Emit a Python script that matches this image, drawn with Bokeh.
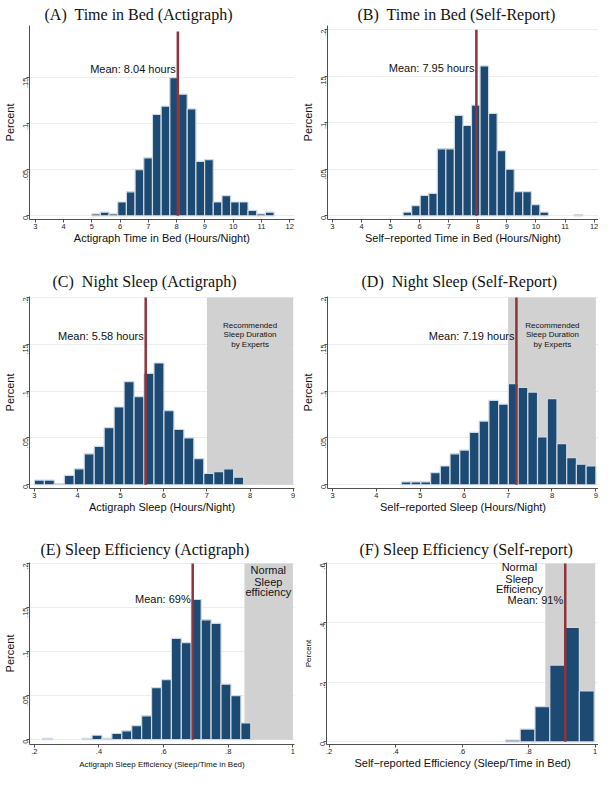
import math
from bokeh.plotting import figure
from bokeh.layouts import column, row
from bokeh.models import Range1d, FixedTicker, CustomJSTickFormatter, Label, ColumnDataSource
from bokeh.embed import file_html
from bokeh.resources import INLINE

# ---------------- data ----------------
# (A) Time in Bed (Actigraph)
a_start, a_width = 4.99, 0.3075
a_pct = [0.002, 0.004, 0.002, 0.015, 0.026, 0.050, 0.063, 0.110, 0.119, 0.150,
         0.132, 0.116, 0.059, 0.061, 0.015, 0.022, 0.015, 0.015, 0.006, 0.002, 0.004]
a_mean = 8.04

# (B) Time in Bed (Self-Report)
b_start, b_width = 5.43, 0.294
b_pct = [0.004, 0.011, 0.022, 0.024, 0.072, 0.072, 0.108, 0.097, 0.119, 0.161,
         0.110, 0.070, 0.050, 0.026, 0.026, 0.012, 0.004, 0.0, 0.0, 0.0, 0.001]
b_mean = 7.95

# (C) Night Sleep (Actigraph)
c_start, c_width = 3.0, 0.231
c_pct = [0.005, 0.005, 0.001, 0.010, 0.017, 0.033, 0.041, 0.061, 0.083, 0.110,
         0.094, 0.119, 0.130, 0.079, 0.059, 0.050, 0.028, 0.012, 0.014, 0.017, 0.008]
c_mean = 5.58

# (D) Night Sleep (Self-Report)
d_start, d_width = 4.57, 0.2215
d_pct = [0.003, 0.003, 0.003, 0.013, 0.020, 0.033, 0.037, 0.056, 0.068, 0.090,
         0.086, 0.108, 0.104, 0.099, 0.051, 0.092, 0.044, 0.029, 0.022, 0.020]
d_mean = 7.19

# (E) Sleep Efficiency (Actigraph)
e_start, e_width = 0.225, 0.0307
e_pct = [0.0015, 0.0, 0.0, 0.0, 0.0015, 0.005, 0.0015, 0.007, 0.010, 0.016,
         0.027, 0.059, 0.068, 0.115, 0.110, 0.159, 0.136, 0.132, 0.063, 0.050, 0.019]
e_mean = 0.69

# (F) Sleep Efficiency (Self-report)
f_start, f_width = 0.73, 0.0445
f_pct = [0.006, 0.043, 0.118, 0.258, 0.385, 0.171]
f_mean = 0.91

sleep_rec = (7, 9)          # recommended sleep duration (hours)
eff_normal = (0.85, 1.0)    # normal sleep efficiency

hour_ticks_a = [3, 4, 5, 6, 7, 8, 9, 10, 11, 12]
hour_ticks_c = [3, 4, 5, 6, 7, 8, 9]
eff_ticks = [0.2, 0.4, 0.6, 0.8, 1.0]
pct_ticks_a = [0, 0.05, 0.1, 0.15]
pct_ticks_b = [0, 0.05, 0.1, 0.15, 0.2]
pct_ticks_f = [0, 0.2, 0.4, 0.6]

# ---------------- style ----------------
BAR = "#1d4a72"
BAR_EDGE = "#cfd9e4"
MEAN = "#8e343a"
SHADE = "#d1d1d1"
SANS = "Liberation Sans"
SERIF = "Liberation Serif"

fmt = CustomJSTickFormatter(code="""
    if (Math.abs(tick) < 1e-9) { return "0"; }
    var s = String(+tick.toFixed(3));
    return s.replace(/^0\\./, ".");
""")


def panel(title, t_off, t_standoff, w, h, b_top, b_left, b_right, xl_standoff,
          start, width, vals, mean, mean_text, mean_y, mean_top,
          xr, yr, xticks, yticks, xlabel, xl_size, yl_size,
          shade=None, shade_lines=None, shade_x=None, shade_ys=None, shade_size="8px"):
    p = figure(width=w, height=h, output_backend="svg", toolbar_location=None,
               x_range=Range1d(*xr), y_range=Range1d(*yr),
               min_border_top=b_top, min_border_left=b_left, min_border_right=b_right,
               min_border_bottom=0)
    p.outline_line_color = None
    p.background_fill_color = "white"
    p.border_fill_color = "white"

    p.title.text = title
    p.title.text_font = SERIF
    p.title.text_font_size = "16px"
    p.title.text_font_style = "normal"
    p.title.text_color = "#111111"
    p.title.align = "left"
    p.title.offset = t_off
    p.title.standoff = t_standoff

    if shade is not None:
        p.quad(left=[shade[0]], right=[shade[1]], bottom=[0], top=[shade[2]],
               fill_color=SHADE, line_color=None)

    lefts, rights, tops = [], [], []
    for i, v in enumerate(vals):
        if v > 0:
            lefts.append(start + i * width)
            rights.append(start + (i + 1) * width)
            tops.append(v)
    src = ColumnDataSource(dict(left=lefts, right=rights, top=tops))
    p.quad(left="left", right="right", bottom=0, top="top", source=src,
           fill_color=BAR, line_color=BAR_EDGE, line_width=1.2)

    p.segment(x0=[mean], y0=[0], x1=[mean], y1=[mean_top], line_color=MEAN, line_width=2.5)

    p.add_layout(Label(x=mean, y=mean_y, x_offset=-2, text=mean_text, text_align="right",
                       text_baseline="middle", text_font=SANS, text_font_size="11px",
                       text_color="#111111"))
    if shade_lines:
        for txt, yy in zip(shade_lines, shade_ys):
            p.add_layout(Label(x=shade_x, y=yy, text=txt, text_align="center",
                               text_baseline="middle", text_font=SANS,
                               text_font_size=shade_size, text_color="#111111"))

    p.xgrid.visible = False
    p.ygrid.ticker = FixedTicker(ticks=yticks)
    p.ygrid.grid_line_color = "#e9eef1"
    p.ygrid.grid_line_width = 1

    for ax in (p.xaxis[0], p.yaxis[0]):
        ax.axis_line_color = "#505050"
        ax.major_tick_line_color = "#505050"
        ax.major_tick_out = 3
        ax.major_tick_in = 0
        ax.minor_tick_line_color = None
        ax.major_label_text_font = SANS
        ax.major_label_text_font_size = "7.5px"
        ax.major_label_text_color = "#222222"
        ax.major_label_standoff = 1
        ax.axis_label_text_font = SANS
        ax.axis_label_text_font_style = "normal"
        ax.axis_label_text_color = "#111111"
        ax.formatter = fmt
    p.xaxis.ticker = FixedTicker(ticks=xticks)
    p.yaxis.ticker = FixedTicker(ticks=yticks)
    p.yaxis.major_label_orientation = math.pi / 2
    p.xaxis.axis_label = xlabel
    p.xaxis.axis_label_text_font_size = xl_size
    p.xaxis.axis_label_standoff = xl_standoff
    p.yaxis.axis_label = "Percent"
    p.yaxis.axis_label_text_font_size = yl_size
    p.yaxis.axis_label_standoff = 2
    return p


WL, WR = 298, 300
H1, H2, H3 = 246, 269, 256

pA = panel("(A)\u00a0 Time in Bed (Actigraph)", 15, 6, WL, H1, 23, 28, 4, 0,
           a_start, a_width, a_pct, a_mean, "Mean: 8.04 hours", 0.159, 0.2,
           (2.79, 12.17), (-0.004, 0.2066), hour_ticks_a, pct_ticks_a,
           "Actigraph Time in Bed (Hours/Night)", "11px", "11px")
pB = panel("(B)\u00a0 Time in Bed (Self-Report)", 30, 6, WR, H1, 23, 28, 0, 0,
           b_start, b_width, b_pct, b_mean, "Mean: 7.95 hours", 0.159, 0.2,
           (2.83, 12.15), (-0.004, 0.2045), hour_ticks_a, pct_ticks_b,
           "Self\u2212reported Time in Bed (Hours/Night)", "11px", "11px")
pC = panel("(C)\u00a0 Night Sleep (Actigraph)", 23, 13, WL, H2, 50, 28, 4, 0,
           c_start, c_width, c_pct, c_mean, "Mean: 5.58 hours", 0.159, 0.2,
           (2.886, 9.03), (-0.004, 0.201), hour_ticks_c, pct_ticks_b,
           "Actigraph Sleep (Hours/Night)", "11px", "11px",
           shade=(sleep_rec[0], sleep_rec[1], 0.2),
           shade_lines=["Recommended", "Sleep Duration", "by Experts"],
           shade_x=8.0, shade_ys=[0.170, 0.160, 0.150])
pD = panel("(D)\u00a0 Night Sleep (Self-Report)", 34, 13, WR, H2, 50, 28, 0, 0,
           d_start, d_width, d_pct, d_mean, "Mean: 7.19 hours", 0.159, 0.2,
           (2.886, 9.06), (-0.004, 0.201), hour_ticks_c, pct_ticks_b,
           "Self\u2212reported Sleep (Hours/Night)", "11px", "11px",
           shade=(sleep_rec[0], sleep_rec[1], 0.2),
           shade_lines=["Recommended", "Sleep Duration", "by Experts"],
           shade_x=8.01, shade_ys=[0.170, 0.160, 0.150])
pE = panel("(E) Sleep Efficiency (Actigraph)", 11, 10, WL, H3, 47, 28, 4, 3,
           e_start, e_width, e_pct, e_mean, "Mean: 69%", 0.160, 0.2,
           (0.185, 1.005), (-0.0055, 0.201), eff_ticks, pct_ticks_b,
           "Actigraph Sleep Efficiency (Sleep/Time in Bed)", "8px", "11px",
           shade=(eff_normal[0], eff_normal[1], 0.2),
           shade_lines=["Normal", "Sleep", "efficiency"],
           shade_x=0.924, shade_ys=[0.192, 0.179, 0.167], shade_size="11px")
pF = panel("(F) Sleep Efficiency (Self-report)", 33, 10, WR, H3, 47, 28, 0, 0,
           f_start, f_width, f_pct, f_mean, "Mean: 91%", 0.476, 0.6,
           (0.192, 1.01), (-0.009, 0.603), eff_ticks, pct_ticks_f,
           "Self\u2212reported Efficiency (Sleep/Time in Bed)", "11px", "8px",
           shade=(eff_normal[0], eff_normal[1], 0.6),
           shade_lines=["Normal", "Sleep", "Efficiency"],
           shade_x=0.772, shade_ys=[0.587, 0.549, 0.513], shade_size="11px")

layout = column(row(pA, pB), row(pC, pD), row(pE, pF))

with open("out.html", "w") as f:
    f.write(file_html(layout, INLINE))
